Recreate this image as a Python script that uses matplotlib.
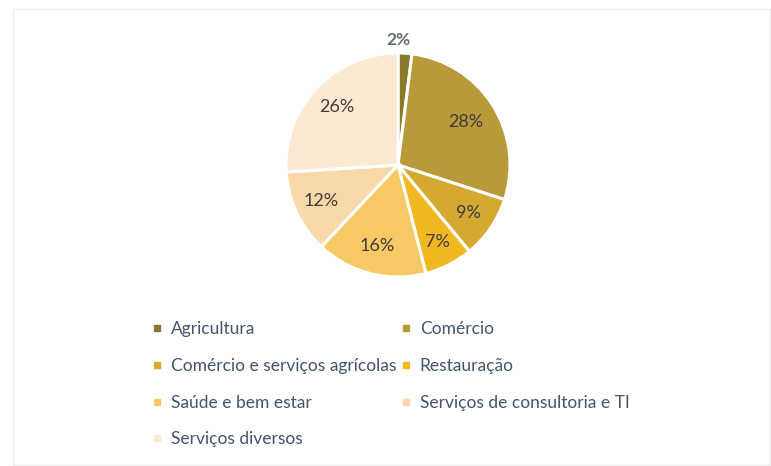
import numpy as np
import matplotlib.pyplot as plt
from matplotlib.lines import Line2D
from matplotlib.patches import Rectangle

categorias = ['Agricultura', 'Comércio', 'Comércio e serviços agrícolas', 'Restauração',
              'Saúde e bem estar', 'Serviços de consultoria e TI', 'Serviços diversos']
percentagens = [2, 28, 9, 7, 16, 12, 26]
cores = ['#8c7a2c', '#b99a38', '#d4a932', '#f2b824', '#f6c965', '#f9d9a9', '#fce9d2']

plt.rcParams['font.family'] = ['Lato', 'DejaVu Sans']

fig = plt.figure(figsize=(7.71, 4.66), dpi=100)
# moldura clara do grafico
fig.patches.append(Rectangle((13 / 771, 0.002), 757 / 771, 1 - 9 / 466 - 0.002,
                             transform=fig.transFigure, fill=False,
                             edgecolor='#ececec', linewidth=1))

ax = fig.add_axes([(398 - 112) / 771, 1 - (165 + 112) / 466, 224 / 771, 224 / 466])
wedges, textos = ax.pie(percentagens, colors=cores, startangle=90, counterclock=False,
                        radius=1.0, wedgeprops=dict(edgecolor='white', linewidth=2.2))
ax.set_xlim(-1, 1)
ax.set_ylim(-1, 1)
ax.set_aspect('equal')

dist = [1.12, 0.72, 0.76, 0.77, 0.75, 0.76, 0.75]
for w, p, d in zip(wedges, percentagens, dist):
    ang = np.deg2rad((w.theta1 + w.theta2) / 2)
    if p == 2:
        ax.text(0.0, 1.12, f'{p}%', ha='center', va='center', fontsize=12.5,
                fontweight='bold', color='#5f6f6a')
    else:
        ax.text(d * np.cos(ang), d * np.sin(ang), f'{p}%', ha='center', va='center',
                fontsize=13, color='#433a3b')

handles = [Line2D([], [], marker='s', linestyle='none', markersize=5,
                  markerfacecolor=c, markeredgecolor=c) for c in cores]
ordem = [0, 2, 4, 6, 1, 3, 5]
leg = fig.legend([handles[i] for i in ordem], [categorias[i] for i in ordem],
                 ncol=2, loc='upper left', bbox_to_anchor=(145 / 771, 1 - 314 / 466),
                 frameon=False, fontsize=12.5, handlelength=0.6, handletextpad=0.5,
                 columnspacing=0.25, labelspacing=1.2, borderaxespad=0)
for t in leg.get_texts():
    t.set_color('#44546a')

fig.savefig('out.png', dpi=100)
